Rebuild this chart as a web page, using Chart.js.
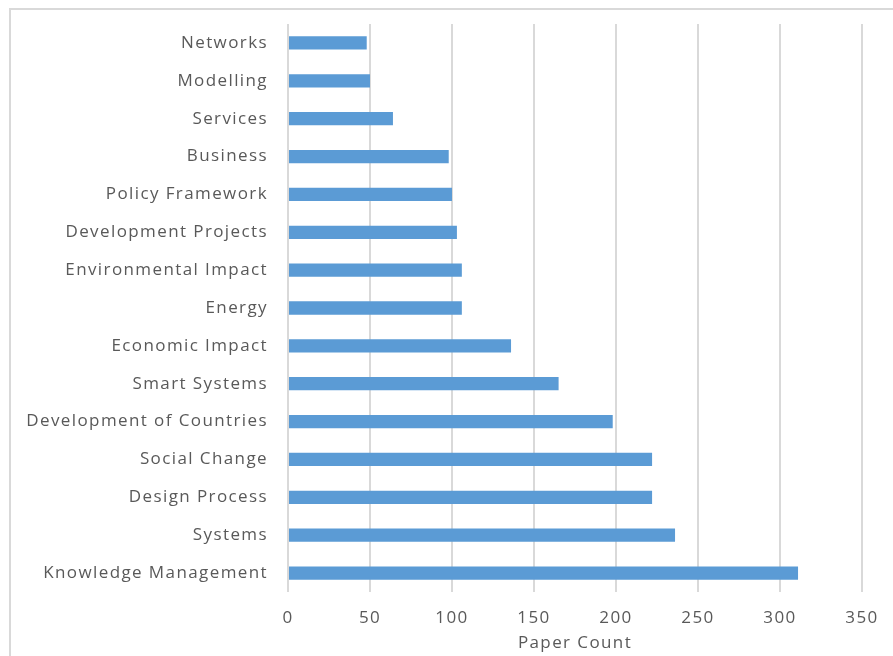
<!DOCTYPE html>
<html>
<head>
<meta charset="utf-8">
<script src="https://cdn.jsdelivr.net/npm/chart.js@4/dist/chart.umd.min.js"></script>
<style>
  body { margin: 0; background: #fff; }
  #wrap { position: relative; width: 893px; height: 656px; overflow: hidden; }
  #frame { position: absolute; left: 9px; top: 8px; width: 1000px; height: 800px;
           border-left: 2px solid #d9d9d9; border-top: 2px solid #d9d9d9; }
  #chart { position: absolute; left: 0; top: 0; }
</style>
</head>
<body>
<div id="wrap">
  <div id="frame"></div>
  <canvas id="chart" width="893" height="656"></canvas>
</div>
<script>
// Topics, top row first
const topics = [
    'Networks', 'Modelling', 'Services', 'Business', 'Policy Framework',
    'Development Projects', 'Environmental Impact', 'Energy', 'Economic Impact',
    'Smart Systems', 'Development of Countries', 'Social Change',
    'Design Process', 'Systems', 'Knowledge Management'
];
const paperCounts = [48, 50, 64, 98, 100, 103, 106, 106, 136, 165, 198, 222, 222, 236, 311];
const countTicks = [0, 50, 100, 150, 200, 250, 300, 350];

const textColor = '#595959';
const fontFamily = "'Open Sans', sans-serif";

// wider letter spacing for all canvas text
const spacedText = {
    id: 'spacedText',
    beforeDraw(chart) {
        chart.ctx.letterSpacing = '1.4px';
    }
};

const ctx = document.getElementById('chart').getContext('2d');
new Chart(ctx, {
    type: 'bar',
    data: {
        labels: topics,
        datasets: [{
            label: 'Paper Count',
            data: paperCounts,
            backgroundColor: '#5b9bd5',
            borderWidth: 0,
            barPercentage: 0.7,
            categoryPercentage: 0.5
        }]
    },
    options: {
        indexAxis: 'y',
        responsive: false,
        animation: false,
        layout: { padding: { top: 24, right: 31, bottom: 0, left: 0 } },
        plugins: {
            legend: { display: false },
            tooltip: { enabled: false }
        },
        scales: {
            x: {
                min: countTicks[0],
                max: countTicks[countTicks.length - 1],
                afterBuildTicks: axis => {
                    axis.ticks = countTicks.map(v => ({ value: v }));
                },
                afterFit: axis => { axis.height = 64; },
                border: { display: false },
                grid: { color: '#d9d9d9', lineWidth: 2, drawTicks: false },
                ticks: {
                    color: textColor,
                    padding: 16,
                    font: { family: fontFamily, size: 17 }
                },
                title: {
                    display: true,
                    text: 'Paper Count',
                    color: textColor,
                    padding: { top: 2, bottom: 3 },
                    font: { family: fontFamily, size: 17 }
                }
            },
            y: {
                afterFit: axis => {
                    axis.width = 288;
                    axis.paddingTop = 0;
                    axis.paddingBottom = 0;
                },
                border: { display: false },
                grid: { display: false, drawTicks: false },
                ticks: {
                    color: textColor,
                    padding: 20,
                    autoSkip: false,
                    font: { family: fontFamily, size: 17 }
                }
            }
        }
    },
    plugins: [spacedText]
});
</script>
</body>
</html>
